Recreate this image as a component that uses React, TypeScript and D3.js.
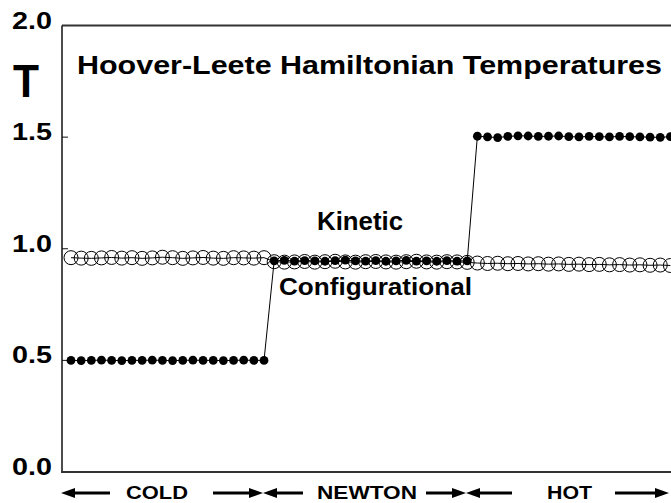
import React from "react";
import * as d3 from "d3";

const kineticCold = [0.500,0.499,0.500,0.501,0.500,0.499,0.500,0.500,0.501,0.500,0.499,0.500,0.501,0.500,0.500,0.499,0.500,0.501,0.500,0.500];
const kineticNewton = [0.946,0.948,0.945,0.947,0.946,0.944,0.947,0.949,0.946,0.945,0.947,0.944,0.946,0.948,0.945,0.946,0.944,0.947,0.945,0.946];
const kineticHot = [1.504,1.501,1.498,1.503,1.506,1.505,1.503,1.504,1.505,1.502,1.501,1.503,1.502,1.501,1.503,1.502,1.501,1.500,1.499,1.502];

const configCold = [0.960,0.958,0.957,0.959,0.961,0.958,0.960,0.957,0.959,0.962,0.960,0.957,0.959,0.961,0.958,0.957,0.960,0.959,0.958,0.960];
const configNewton = [0.942,0.940,0.941,0.943,0.940,0.942,0.944,0.941,0.940,0.942,0.943,0.941,0.940,0.942,0.944,0.941,0.940,0.942,0.941,0.939];
const configHot = [0.936,0.934,0.935,0.933,0.934,0.932,0.933,0.931,0.932,0.930,0.931,0.929,0.930,0.928,0.929,0.927,0.928,0.926,0.927,0.925];

const yTicks = [0.0, 0.5, 1.0, 1.5, 2.0];
const phases = ["COLD", "NEWTON", "HOT"];

const kinetic = [...kineticCold, ...kineticNewton, ...kineticHot];
const config = [...configCold, ...configNewton, ...configHot];

const W = 671;
const H = 503;
const FONT = "'Liberation Sans', Arial, Helvetica, sans-serif";

export default function App() {
  const x = d3.scaleLinear().domain([-0.886, 59.06]).range([62, 671]);
  const y = d3.scaleLinear().domain([0, 2]).range([472, 25.5]);

  const line = d3
    .line<number>()
    .x((_, i) => x(i))
    .y((d) => y(d));

  const arrowY = 493;
  const arrows: [number, number][] = [
    [110, 61],
    [213, 263],
    [303, 263],
    [426, 466],
    [512, 466],
    [615, 669],
  ];
  const labelCenters = [157, 367, 569.5];
  const labelWidths = [62, 100, 45];

  const arrowPath = (from: number, to: number) => {
    const dir = Math.sign(to - from);
    const headLen = 14;
    const hh = 5;
    const sh = 1.6;
    const base = to - dir * headLen;
    return `M${from},${arrowY - sh}L${base},${arrowY - sh}L${base},${arrowY - hh}L${to},${arrowY}L${base},${arrowY + hh}L${base},${arrowY + sh}L${from},${arrowY + sh}Z`;
  };

  return (
    <svg
      width={W}
      height={H}
      style={{ position: "absolute", left: 0, top: 0, background: "#fff" }}
      fontFamily={FONT}
    >
      <rect x={0} y={0} width={W} height={H} fill="#fff" />
      {/* frame */}
      <line x1={62} x2={W} y1={y(2)} y2={y(2)} stroke="#333" strokeWidth={2} />
      <line x1={62} x2={62} y1={y(2)} y2={y(0)} stroke="#111" strokeWidth={1.5} />
      <line x1={61} x2={W} y1={y(0)} y2={y(0)} stroke="#333" strokeWidth={2} />
      {yTicks.map((t) => (
        <g key={t}>
          {t > 0 && t < 2 && (
            <line x1={62} x2={68} y1={y(t)} y2={y(t)} stroke="#111" strokeWidth={1} />
          )}
          <text
            x={52}
            y={y(t) + 3}
            textAnchor="end"
            fontSize={24}
            fontWeight="bold"
            textLength={40}
            lengthAdjust="spacingAndGlyphs"
          >
            {t.toFixed(1)}
          </text>
        </g>
      ))}
      <text x={13} y={97} fontSize={47} fontWeight="bold" textLength={26} lengthAdjust="spacingAndGlyphs">
        T
      </text>
      <text x={77} y={74} fontSize={26.5} fontWeight="bold" textLength={585} lengthAdjust="spacingAndGlyphs">
        Hoover-Leete Hamiltonian Temperatures
      </text>

      {/* configurational */}
      <path d={line(config) || ""} fill="none" stroke="#000" strokeWidth={1} />
      {config.map((d, i) => (
        <circle key={"c" + i} cx={x(i)} cy={y(d)} r={7} fill="none" stroke="#000" strokeWidth={1} />
      ))}
      {/* kinetic */}
      <path d={line(kinetic) || ""} fill="none" stroke="#000" strokeWidth={1} />
      {kinetic.map((d, i) => (
        <circle key={"k" + i} cx={x(i)} cy={y(d)} r={4.4} fill="#000" />
      ))}

      <text x={317} y={230} fontSize={25} fontWeight="bold" textLength={86} lengthAdjust="spacingAndGlyphs">
        Kinetic
      </text>
      <text x={279} y={295} fontSize={24} fontWeight="bold" textLength={193} lengthAdjust="spacingAndGlyphs">
        Configurational
      </text>

      {arrows.map(([a, b], i) => (
        <path key={"a" + i} d={arrowPath(a, b)} fill="#000" />
      ))}
      {phases.map((p, i) => (
        <text
          key={p}
          x={labelCenters[i]}
          y={498.5}
          textAnchor="middle"
          fontSize={19}
          fontWeight="bold"
          textLength={labelWidths[i]}
          lengthAdjust="spacingAndGlyphs"
        >
          {p}
        </text>
      ))}
    </svg>
  );
}
